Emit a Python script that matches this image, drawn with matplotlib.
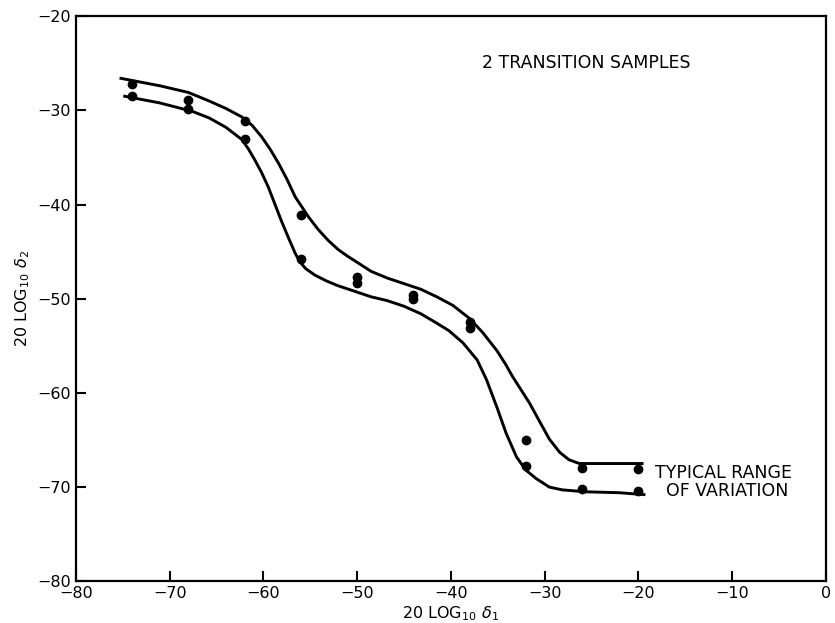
import numpy as np
import matplotlib.pyplot as plt

# measured points, two per sample position
x_pts = [-74, -68, -62, -56, -50, -44, -38, -32, -26, -20]
y_high = [-27.2, -28.9, -31.1, -41.1, -47.7, -49.6, -52.5, -65.0, -68.0, -68.1]
y_low = [-28.5, -29.9, -33.0, -45.8, -48.3, -50.0, -53.1, -67.8, -70.2, -70.4]

# traced envelope curves
upper_x = [-75.2, -71.0, -68.0, -65.8, -64.0, -62.3, -61.2, -60.2, -59.3, -58.4, -57.5, -56.6,
           -55.2, -54.2, -53.1, -52.0, -51.0, -49.9, -48.5, -46.8, -45.0, -43.2, -41.5, -39.8,
           -38.0, -36.6, -35.1, -34.2, -33.4, -32.5, -31.6, -30.5, -29.5, -28.4, -27.4, -26.3,
           -23.0, -19.6]
upper_y = [-26.6, -27.4, -28.1, -29.0, -29.8, -30.7, -31.6, -32.8, -34.1, -35.6, -37.3, -39.2,
           -41.3, -42.6, -43.8, -44.8, -45.5, -46.2, -47.1, -47.8, -48.4, -49.0, -49.8, -50.7,
           -52.1, -53.6, -55.5, -56.9, -58.3, -59.7, -61.1, -63.1, -64.9, -66.3, -67.1, -67.5,
           -67.5, -67.5]
lower_x = [-74.8, -71.1, -67.6, -65.8, -64.0, -62.3, -61.6, -60.9, -60.2, -59.5, -58.8, -58.1,
           -57.3, -56.6, -56.1, -55.5, -54.5, -53.3, -52.1, -50.3, -48.5, -46.8, -45.0, -43.2,
           -41.5, -40.2, -38.7, -37.2, -36.2, -35.1, -34.1, -33.0, -32.0, -30.9, -29.5,
           -28.1, -25.6, -22.0, -19.4]
lower_y = [-28.5, -29.2, -30.1, -30.8, -31.8, -33.1, -34.1, -35.3, -36.6, -38.1, -39.9, -41.7,
           -43.6, -45.2, -46.1, -46.8, -47.5, -48.1, -48.6, -49.2, -49.8, -50.2, -50.8, -51.6,
           -52.6, -53.4, -54.7, -56.5, -58.6, -61.5, -64.3, -66.8, -68.2, -69.1, -70.0,
           -70.3, -70.5, -70.6, -70.8]

x_ticks = [-80, -70, -60, -50, -40, -30, -20, -10, 0]
y_ticks = [-80, -70, -60, -50, -40, -30, -20]

fig = plt.figure(figsize=(8.35, 6.23), dpi=100)
ax = fig.add_axes([0.091, 0.067, 0.898, 0.907])

ax.plot(upper_x, upper_y, color='black', lw=2.1, solid_joinstyle='round')
ax.plot(lower_x, lower_y, color='black', lw=2.1, solid_joinstyle='round')
ax.plot(x_pts, y_high, 'o', color='black', ms=6)
ax.plot(x_pts, y_low, 'o', color='black', ms=6)

ax.set_xlim(-80, 0)
ax.set_ylim(-80, -20)
ax.set_xticks(x_ticks)
ax.set_yticks(y_ticks)
ax.set_xticklabels(['\u2212%d' % -t if t else '0' for t in x_ticks])
ax.set_yticklabels(['\u2212%d' % -t for t in y_ticks])
ax.tick_params(direction='in', length=7, width=1.5, labelsize=11.5)
for s in ax.spines.values():
    s.set_linewidth(1.6)

ax.set_xlabel(r'20 LOG$_{10}$ $\delta_1$', fontsize=11.5, labelpad=2)
ax.set_ylabel(r'20 LOG$_{10}$ $\delta_2$', fontsize=11.5, labelpad=4)

ax.text(-25.6, -25.0, '2 TRANSITION SAMPLES', fontsize=12.5, ha='center', va='center')
ax.text(-18.2, -69.5, 'TYPICAL RANGE\n  OF VARIATION', fontsize=12.5, ha='left', va='center',
        linespacing=1.0)

fig.savefig('out.png', dpi=100)
